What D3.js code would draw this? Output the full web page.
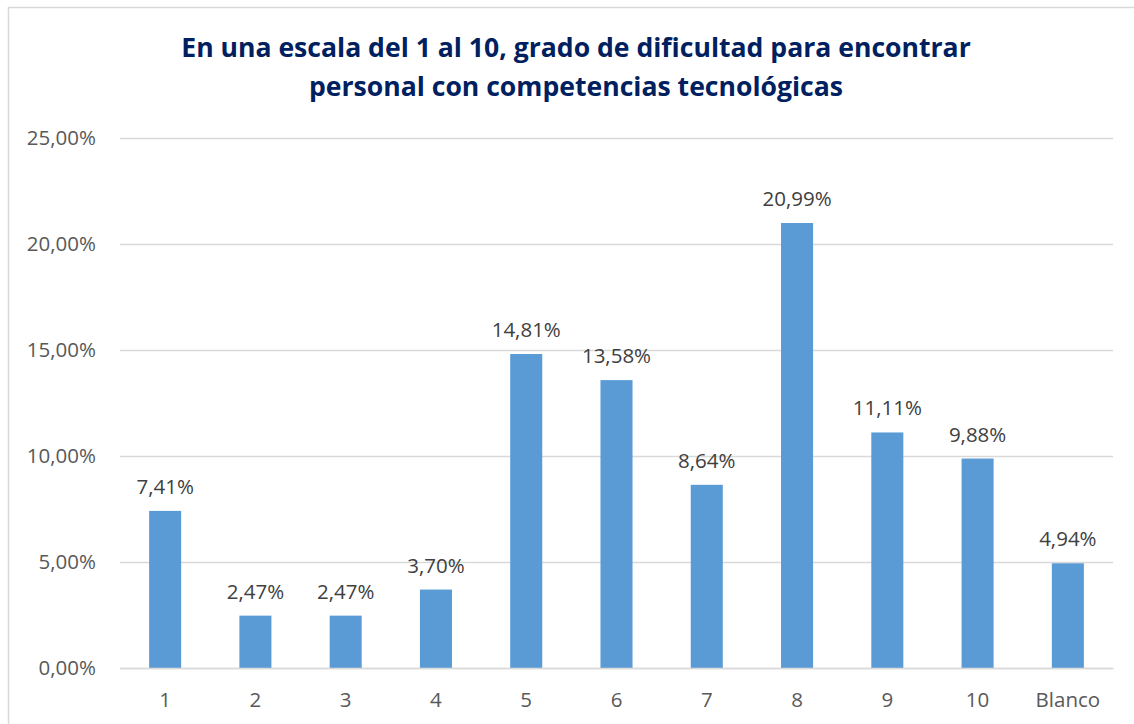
<!DOCTYPE html>
<html>
<head>
<meta charset="utf-8">
<script src="https://cdn.jsdelivr.net/npm/d3@7"></script>
<style>
  html, body { margin: 0; padding: 0; background: #fff; }
  svg { display: block; }
</style>
</head>
<body>
<svg id="chart" width="1134" height="724"></svg>
<script>
const categories = ["1", "2", "3", "4", "5", "6", "7", "8", "9", "10", "Blanco"];
const values = [7.41, 2.47, 2.47, 3.70, 14.81, 13.58, 8.64, 20.99, 11.11, 9.88, 4.94];
const yTicks = [0, 5, 10, 15, 20, 25];
const titleLines = ["En una escala del 1 al 10, grado de dificultad para encontrar",
                    "personal con competencias tecnológicas"];

const fmt = v => v.toFixed(2).replace(".", ",") + "%";
const FONT = "'Open Sans', 'Liberation Sans', sans-serif";
const LABEL_SIZE = "20.5px";

const svg = d3.select("#chart");
svg.append("rect").attr("x", 8.5).attr("y", 7.5).attr("width", 1140).attr("height", 740)
  .attr("fill", "#fff").attr("stroke", "#d9d9d9").attr("stroke-width", 1.5);

const m = { left: 120, right: 1113, top: 138, bottom: 668 };
const x = d3.scaleBand().domain(categories).range([m.left, m.right]).paddingInner(0.645).paddingOuter(0.3225);
const y = d3.scaleLinear().domain([0, 25]).range([m.bottom, m.top]);

// gridlines + y labels
const yAxis = d3.axisLeft(y).tickValues(yTicks).tickFormat(fmt).tickSize(-(m.right - m.left)).tickPadding(24);
const gy = svg.append("g").attr("transform", `translate(${m.left},0)`).call(yAxis);
gy.select(".domain").remove();
gy.selectAll(".tick line").attr("stroke", "#d9d9d9").attr("stroke-width", 1.3);
gy.selectAll(".tick text").attr("fill", "#595959").style("font-family", FONT).style("font-size", LABEL_SIZE);

// bars
svg.append("g").selectAll("rect").data(values).join("rect")
  .attr("x", (d, i) => x(categories[i]))
  .attr("y", d => y(d))
  .attr("width", x.bandwidth())
  .attr("height", d => y(0) - y(d))
  .attr("fill", "#5B9BD5");

// x axis
const xAxis = d3.axisBottom(x).tickSize(0).tickPadding(24);
const gx = svg.append("g").attr("transform", `translate(0,${m.bottom})`).call(xAxis);
gx.select(".domain").attr("stroke", "#d9d9d9").attr("stroke-width", 1.3);
gx.selectAll(".tick text").attr("fill", "#595959").style("font-family", FONT).style("font-size", LABEL_SIZE);

// data labels
svg.append("g").selectAll("text").data(values).join("text")
  .attr("x", (d, i) => x(categories[i]) + x.bandwidth() / 2)
  .attr("y", d => y(d) - 17)
  .attr("text-anchor", "middle")
  .attr("fill", "#404040")
  .style("font-family", FONT).style("font-size", LABEL_SIZE)
  .text(d => fmt(d));

// title
const title = svg.append("g");
const t1 = title.append("text").attr("x", 576).attr("y", 57).attr("text-anchor", "middle")
  .attr("fill", "#002060").style("font-family", FONT).style("font-weight", "bold").style("font-size", "26px")
  .text(titleLines[0]);
const w = t1.node().getComputedTextLength();
const fs = 26 * 790 / w;
t1.style("font-size", fs + "px");
title.append("text").attr("x", 576).attr("y", 96).attr("text-anchor", "middle")
  .attr("fill", "#002060").style("font-family", FONT).style("font-weight", "bold").style("font-size", fs + "px")
  .text(titleLines[1]);
</script>
</body>
</html>
